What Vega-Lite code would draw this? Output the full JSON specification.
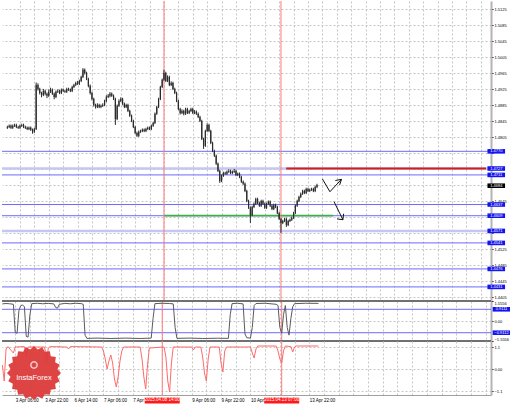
{
"$schema":"https://vega.github.io/schema/vega-lite/v6.json",
"padding":0,
"spacing":0,
"bounds":"flush",
"background":"white",
"config":{"view":{"stroke":null},"axis":{"labelFont":"Liberation Sans","labelColor":"#000","gridColor":"#c6c6c6","gridDash":[2,2],"gridWidth":1,"domainColor":"#a8a8a8"}},
"datasets":{
"candles":[
{"i":-7,"o":1.4829,"h":1.4834,"l":1.4826,"c":1.4831},
{"i":-6,"o":1.4831,"h":1.4837,"l":1.4828,"c":1.4834},
{"i":-5,"o":1.4834,"h":1.4837,"l":1.4826,"c":1.4829},
{"i":-4,"o":1.4829,"h":1.4837,"l":1.4826,"c":1.4834},
{"i":-3,"o":1.4834,"h":1.4839,"l":1.4831,"c":1.4836},
{"i":-2,"o":1.4836,"h":1.4839,"l":1.4828,"c":1.4831},
{"i":-1,"o":1.4831,"h":1.4834,"l":1.4826,"c":1.4829},
{"i":0,"o":1.4829,"h":1.4837,"l":1.4826,"c":1.4834},
{"i":1,"o":1.4834,"h":1.4839,"l":1.4831,"c":1.4836},
{"i":2,"o":1.4836,"h":1.4839,"l":1.4828,"c":1.4831},
{"i":3,"o":1.4831,"h":1.4834,"l":1.4826,"c":1.4829},
{"i":4,"o":1.4829,"h":1.4832,"l":1.4823,"c":1.4826},
{"i":5,"o":1.4826,"h":1.4832,"l":1.4823,"c":1.4829},
{"i":6,"o":1.4829,"h":1.4832,"l":1.4821,"c":1.4824},
{"i":7,"o":1.4824,"h":1.4827,"l":1.4814,"c":1.4819},
{"i":8,"o":1.4819,"h":1.4829,"l":1.4816,"c":1.4826},
{"i":9,"o":1.4826,"h":1.4942,"l":1.4823,"c":1.4936},
{"i":10,"o":1.4936,"h":1.4940,"l":1.4922,"c":1.4926},
{"i":11,"o":1.4926,"h":1.4929,"l":1.4912,"c":1.4916},
{"i":12,"o":1.4916,"h":1.4919,"l":1.4905,"c":1.4911},
{"i":13,"o":1.4911,"h":1.4926,"l":1.4908,"c":1.4921},
{"i":14,"o":1.4921,"h":1.4924,"l":1.4910,"c":1.4914},
{"i":15,"o":1.4914,"h":1.4917,"l":1.4903,"c":1.4909},
{"i":16,"o":1.4909,"h":1.4925,"l":1.4906,"c":1.4919},
{"i":17,"o":1.4919,"h":1.4929,"l":1.4916,"c":1.4924},
{"i":18,"o":1.4924,"h":1.4927,"l":1.4911,"c":1.4914},
{"i":19,"o":1.4914,"h":1.4917,"l":1.4900,"c":1.4906},
{"i":20,"o":1.4906,"h":1.4922,"l":1.4903,"c":1.4919},
{"i":21,"o":1.4919,"h":1.4925,"l":1.4916,"c":1.4921},
{"i":22,"o":1.4921,"h":1.4924,"l":1.4913,"c":1.4916},
{"i":23,"o":1.4916,"h":1.4927,"l":1.4913,"c":1.4924},
{"i":24,"o":1.4924,"h":1.4927,"l":1.4918,"c":1.4921},
{"i":25,"o":1.4921,"h":1.4924,"l":1.4916,"c":1.4919},
{"i":26,"o":1.4919,"h":1.4929,"l":1.4916,"c":1.4926},
{"i":27,"o":1.4926,"h":1.4929,"l":1.4921,"c":1.4924},
{"i":28,"o":1.4924,"h":1.4927,"l":1.4918,"c":1.4921},
{"i":29,"o":1.4921,"h":1.4934,"l":1.4918,"c":1.4931},
{"i":30,"o":1.4931,"h":1.4939,"l":1.4928,"c":1.4936},
{"i":31,"o":1.4936,"h":1.4944,"l":1.4933,"c":1.4941},
{"i":32,"o":1.4941,"h":1.4946,"l":1.4936,"c":1.4939},
{"i":33,"o":1.4939,"h":1.4949,"l":1.4936,"c":1.4946},
{"i":34,"o":1.4946,"h":1.4959,"l":1.4943,"c":1.4956},
{"i":35,"o":1.4956,"h":1.4978,"l":1.4953,"c":1.4974},
{"i":36,"o":1.4974,"h":1.4977,"l":1.4962,"c":1.4966},
{"i":37,"o":1.4966,"h":1.4969,"l":1.4948,"c":1.4951},
{"i":38,"o":1.4951,"h":1.4954,"l":1.4930,"c":1.4934},
{"i":39,"o":1.4934,"h":1.4937,"l":1.4912,"c":1.4916},
{"i":40,"o":1.4916,"h":1.4919,"l":1.4897,"c":1.4901},
{"i":41,"o":1.4901,"h":1.4904,"l":1.4882,"c":1.4886},
{"i":42,"o":1.4886,"h":1.4889,"l":1.4877,"c":1.4881},
{"i":43,"o":1.4881,"h":1.4890,"l":1.4878,"c":1.4886},
{"i":44,"o":1.4886,"h":1.4889,"l":1.4878,"c":1.4881},
{"i":45,"o":1.4881,"h":1.4887,"l":1.4878,"c":1.4884},
{"i":46,"o":1.4884,"h":1.4890,"l":1.4881,"c":1.4886},
{"i":47,"o":1.4886,"h":1.4899,"l":1.4883,"c":1.4896},
{"i":48,"o":1.4896,"h":1.4910,"l":1.4893,"c":1.4906},
{"i":49,"o":1.4906,"h":1.4913,"l":1.4903,"c":1.4909},
{"i":50,"o":1.4909,"h":1.4918,"l":1.4905,"c":1.4914},
{"i":51,"o":1.4914,"h":1.4917,"l":1.4906,"c":1.4909},
{"i":52,"o":1.4909,"h":1.4912,"l":1.4898,"c":1.4901},
{"i":53,"o":1.4901,"h":1.4904,"l":1.4836,"c":1.4851},
{"i":54,"o":1.4851,"h":1.4887,"l":1.4848,"c":1.4884},
{"i":55,"o":1.4884,"h":1.4900,"l":1.4881,"c":1.4896},
{"i":56,"o":1.4896,"h":1.4905,"l":1.4893,"c":1.4901},
{"i":57,"o":1.4901,"h":1.4904,"l":1.4886,"c":1.4889},
{"i":58,"o":1.4889,"h":1.4892,"l":1.4878,"c":1.4881},
{"i":59,"o":1.4881,"h":1.4889,"l":1.4878,"c":1.4886},
{"i":60,"o":1.4886,"h":1.4889,"l":1.4868,"c":1.4871},
{"i":61,"o":1.4871,"h":1.4874,"l":1.4856,"c":1.4859},
{"i":62,"o":1.4859,"h":1.4862,"l":1.4843,"c":1.4846},
{"i":63,"o":1.4846,"h":1.4849,"l":1.4828,"c":1.4831},
{"i":64,"o":1.4831,"h":1.4834,"l":1.4813,"c":1.4816},
{"i":65,"o":1.4816,"h":1.4819,"l":1.4806,"c":1.4809},
{"i":66,"o":1.4809,"h":1.4822,"l":1.4806,"c":1.4819},
{"i":67,"o":1.4819,"h":1.4824,"l":1.4816,"c":1.4821},
{"i":68,"o":1.4821,"h":1.4827,"l":1.4818,"c":1.4824},
{"i":69,"o":1.4824,"h":1.4827,"l":1.4818,"c":1.4821},
{"i":70,"o":1.4821,"h":1.4829,"l":1.4818,"c":1.4826},
{"i":71,"o":1.4826,"h":1.4832,"l":1.4823,"c":1.4829},
{"i":72,"o":1.4829,"h":1.4832,"l":1.4823,"c":1.4826},
{"i":73,"o":1.4826,"h":1.4837,"l":1.4823,"c":1.4834},
{"i":74,"o":1.4834,"h":1.4844,"l":1.4831,"c":1.4841},
{"i":75,"o":1.4841,"h":1.4867,"l":1.4838,"c":1.4864},
{"i":76,"o":1.4864,"h":1.4884,"l":1.4861,"c":1.4881},
{"i":77,"o":1.4881,"h":1.4904,"l":1.4878,"c":1.4901},
{"i":78,"o":1.4901,"h":1.4934,"l":1.4898,"c":1.4931},
{"i":79,"o":1.4931,"h":1.4952,"l":1.4928,"c":1.4949},
{"i":80,"o":1.4949,"h":1.4974,"l":1.4946,"c":1.4966},
{"i":81,"o":1.4966,"h":1.4969,"l":1.4943,"c":1.4946},
{"i":82,"o":1.4946,"h":1.4960,"l":1.4943,"c":1.4956},
{"i":83,"o":1.4956,"h":1.4959,"l":1.4933,"c":1.4936},
{"i":84,"o":1.4936,"h":1.4945,"l":1.4933,"c":1.4941},
{"i":85,"o":1.4941,"h":1.4944,"l":1.4923,"c":1.4926},
{"i":86,"o":1.4926,"h":1.4929,"l":1.4913,"c":1.4916},
{"i":87,"o":1.4916,"h":1.4919,"l":1.4893,"c":1.4896},
{"i":88,"o":1.4896,"h":1.4899,"l":1.4873,"c":1.4876},
{"i":89,"o":1.4876,"h":1.4879,"l":1.4862,"c":1.4866},
{"i":90,"o":1.4866,"h":1.4875,"l":1.4863,"c":1.4871},
{"i":91,"o":1.4871,"h":1.4874,"l":1.4860,"c":1.4864},
{"i":92,"o":1.4864,"h":1.4879,"l":1.4861,"c":1.4876},
{"i":93,"o":1.4876,"h":1.4879,"l":1.4863,"c":1.4866},
{"i":94,"o":1.4866,"h":1.4874,"l":1.4863,"c":1.4871},
{"i":95,"o":1.4871,"h":1.4879,"l":1.4868,"c":1.4876},
{"i":96,"o":1.4876,"h":1.4879,"l":1.4863,"c":1.4866},
{"i":97,"o":1.4866,"h":1.4873,"l":1.4863,"c":1.4869},
{"i":98,"o":1.4869,"h":1.4872,"l":1.4861,"c":1.4864},
{"i":99,"o":1.4864,"h":1.4867,"l":1.4853,"c":1.4856},
{"i":100,"o":1.4856,"h":1.4859,"l":1.4843,"c":1.4846},
{"i":101,"o":1.4846,"h":1.4849,"l":1.4798,"c":1.4801},
{"i":102,"o":1.4801,"h":1.4804,"l":1.4776,"c":1.4784},
{"i":103,"o":1.4784,"h":1.4824,"l":1.4781,"c":1.4821},
{"i":104,"o":1.4821,"h":1.4840,"l":1.4818,"c":1.4836},
{"i":105,"o":1.4836,"h":1.4839,"l":1.4818,"c":1.4821},
{"i":106,"o":1.4821,"h":1.4824,"l":1.4788,"c":1.4791},
{"i":107,"o":1.4791,"h":1.4794,"l":1.4768,"c":1.4771},
{"i":108,"o":1.4771,"h":1.4774,"l":1.4756,"c":1.4759},
{"i":109,"o":1.4759,"h":1.4762,"l":1.4736,"c":1.4739},
{"i":110,"o":1.4739,"h":1.4742,"l":1.4718,"c":1.4721},
{"i":111,"o":1.4721,"h":1.4724,"l":1.4691,"c":1.4696},
{"i":112,"o":1.4696,"h":1.4712,"l":1.4693,"c":1.4709},
{"i":113,"o":1.4709,"h":1.4719,"l":1.4706,"c":1.4716},
{"i":114,"o":1.4716,"h":1.4719,"l":1.4711,"c":1.4714},
{"i":115,"o":1.4714,"h":1.4722,"l":1.4711,"c":1.4719},
{"i":116,"o":1.4719,"h":1.4725,"l":1.4716,"c":1.4721},
{"i":117,"o":1.4721,"h":1.4724,"l":1.4713,"c":1.4716},
{"i":118,"o":1.4716,"h":1.4722,"l":1.4713,"c":1.4719},
{"i":119,"o":1.4719,"h":1.4726,"l":1.4716,"c":1.4721},
{"i":120,"o":1.4721,"h":1.4724,"l":1.4708,"c":1.4711},
{"i":121,"o":1.4711,"h":1.4717,"l":1.4708,"c":1.4714},
{"i":122,"o":1.4714,"h":1.4717,"l":1.4703,"c":1.4706},
{"i":123,"o":1.4706,"h":1.4709,"l":1.4691,"c":1.4694},
{"i":124,"o":1.4694,"h":1.4697,"l":1.4686,"c":1.4689},
{"i":125,"o":1.4689,"h":1.4692,"l":1.4668,"c":1.4671},
{"i":126,"o":1.4671,"h":1.4674,"l":1.4643,"c":1.4646},
{"i":127,"o":1.4646,"h":1.4649,"l":1.4626,"c":1.4629},
{"i":128,"o":1.4629,"h":1.4632,"l":1.4591,"c":1.4611},
{"i":129,"o":1.4611,"h":1.4634,"l":1.4608,"c":1.4631},
{"i":130,"o":1.4631,"h":1.4642,"l":1.4628,"c":1.4639},
{"i":131,"o":1.4639,"h":1.4654,"l":1.4636,"c":1.4651},
{"i":132,"o":1.4651,"h":1.4654,"l":1.4638,"c":1.4641},
{"i":133,"o":1.4641,"h":1.4644,"l":1.4631,"c":1.4634},
{"i":134,"o":1.4634,"h":1.4649,"l":1.4631,"c":1.4646},
{"i":135,"o":1.4646,"h":1.4649,"l":1.4636,"c":1.4639},
{"i":136,"o":1.4639,"h":1.4642,"l":1.4626,"c":1.4629},
{"i":137,"o":1.4629,"h":1.4642,"l":1.4626,"c":1.4639},
{"i":138,"o":1.4639,"h":1.4647,"l":1.4636,"c":1.4644},
{"i":139,"o":1.4644,"h":1.4647,"l":1.4631,"c":1.4634},
{"i":140,"o":1.4634,"h":1.4637,"l":1.4623,"c":1.4626},
{"i":141,"o":1.4626,"h":1.4639,"l":1.4623,"c":1.4636},
{"i":142,"o":1.4636,"h":1.4639,"l":1.4628,"c":1.4631},
{"i":143,"o":1.4631,"h":1.4634,"l":1.4613,"c":1.4616},
{"i":144,"o":1.4616,"h":1.4619,"l":1.4598,"c":1.4601},
{"i":145,"o":1.4601,"h":1.4604,"l":1.4566,"c":1.4591},
{"i":146,"o":1.4591,"h":1.4599,"l":1.4588,"c":1.4596},
{"i":147,"o":1.4596,"h":1.4604,"l":1.4593,"c":1.4601},
{"i":148,"o":1.4601,"h":1.4604,"l":1.4581,"c":1.4586},
{"i":149,"o":1.4586,"h":1.4599,"l":1.4583,"c":1.4596},
{"i":150,"o":1.4596,"h":1.4602,"l":1.4593,"c":1.4599},
{"i":151,"o":1.4599,"h":1.4607,"l":1.4596,"c":1.4604},
{"i":152,"o":1.4604,"h":1.4619,"l":1.4601,"c":1.4616},
{"i":153,"o":1.4616,"h":1.4637,"l":1.4613,"c":1.4634},
{"i":154,"o":1.4634,"h":1.4649,"l":1.4631,"c":1.4646},
{"i":155,"o":1.4646,"h":1.4659,"l":1.4643,"c":1.4656},
{"i":156,"o":1.4656,"h":1.4667,"l":1.4653,"c":1.4664},
{"i":157,"o":1.4664,"h":1.4674,"l":1.4661,"c":1.4671},
{"i":158,"o":1.4671,"h":1.4674,"l":1.4663,"c":1.4666},
{"i":159,"o":1.4666,"h":1.4679,"l":1.4663,"c":1.4676},
{"i":160,"o":1.4676,"h":1.4679,"l":1.4668,"c":1.4671},
{"i":161,"o":1.4671,"h":1.4677,"l":1.4668,"c":1.4674},
{"i":162,"o":1.4674,"h":1.4679,"l":1.4671,"c":1.4676},
{"i":163,"o":1.4676,"h":1.4679,"l":1.4668,"c":1.4671},
{"i":164,"o":1.4671,"h":1.4684,"l":1.4668,"c":1.4681},
{"i":165,"o":1.4681,"h":1.4689,"l":1.4678,"c":1.4686}
],
"levels":[
{"p":1.4770,"kind":"line"},{"p":1.4727,"kind":"zone"},{"p":1.4711,"kind":"line"},{"p":1.4637,"kind":"line"},{"p":1.4609,"kind":"line"},{"p":1.4571,"kind":"zone"},{"p":1.4541,"kind":"line"},{"p":1.4476,"kind":"line"},{"p":1.4431,"kind":"line"}
],
"bid":[{"p":1.4684}],
"segments":[
{"kind":"resistance","p":1.4727,"i":147.9,"i1":258.9},
{"kind":"support","p":1.4609,"i":80,"i1":174}
],
"cursors":[{"i":80,"label":"2015.04.08 14:00"},{"i":145,"label":"2015.04.13 07:00"}],
"arrows":[
{"id":"up","k":1,"i":168.0,"p":1.4701},{"id":"up","k":2,"i":172.2,"p":1.4669},{"id":"up","k":3,"i":178.6,"p":1.4700},
{"id":"uphead","k":1,"i":175.2,"p":1.4697},{"id":"uphead","k":2,"i":178.6,"p":1.4700},{"id":"uphead","k":3,"i":177.6,"p":1.4686},
{"id":"down","k":1,"i":174.5,"p":1.4644},{"id":"down","k":2,"i":179.4,"p":1.4599},
{"id":"downhead","k":1,"i":176.2,"p":1.4601},{"id":"downhead","k":2,"i":179.4,"p":1.4599},{"id":"downhead","k":3,"i":179.8,"p":1.4614}
],
"osc1":[
{"i":-7,"v":1.33},{"i":-5,"v":1.36},{"i":-3,"v":1.34},{"i":-1,"v":1.30},{"i":0,"v":-0.9},{"i":1,"v":-0.95},{"i":2,"v":0.8},{"i":3,"v":1.2},{"i":4,"v":1.25},{"i":5,"v":1.1},{"i":6,"v":-1.2},{"i":7,"v":-1.25},{"i":8,"v":0.5},{"i":9,"v":1.35},{"i":12,"v":1.38},{"i":15,"v":1.34},{"i":18,"v":1.37},{"i":21,"v":1.33},{"i":22,"v":1.05},{"i":23,"v":1.0},{"i":24,"v":1.3},{"i":27,"v":1.37},{"i":30,"v":1.34},{"i":33,"v":1.38},{"i":36,"v":1.35},{"i":37,"v":1.3},{"i":38,"v":-1.1},{"i":39,"v":-1.35},{"i":45,"v":-1.33},{"i":52,"v":-1.36},{"i":60,"v":-1.33},{"i":68,"v":-1.36},{"i":74,"v":-1.33},{"i":75,"v":0.2},{"i":76,"v":1.35},{"i":80,"v":1.38},{"i":84,"v":1.36},{"i":86,"v":1.33},{"i":87,"v":-0.5},{"i":88,"v":-1.35},{"i":95,"v":-1.33},{"i":102,"v":-1.36},{"i":110,"v":-1.34},{"i":116,"v":-1.35},{"i":117,"v":0.5},{"i":118,"v":1.35},{"i":121,"v":1.38},{"i":124,"v":1.33},{"i":125,"v":-1.0},{"i":126,"v":-1.3},{"i":128,"v":-1.33},{"i":129,"v":-0.5},{"i":130,"v":1.2},{"i":131,"v":1.36},{"i":136,"v":1.38},{"i":142,"v":1.3},{"i":143,"v":1.2},{"i":144,"v":-0.5},{"i":145,"v":-0.95},{"i":146,"v":0.5},{"i":147,"v":1.2},{"i":148,"v":-0.5},{"i":149,"v":-1.1},{"i":150,"v":0.2},{"i":151,"v":1.1},{"i":152,"v":1.35},{"i":158,"v":1.38},{"i":165,"v":1.37}
],
"osc1levels":[{"v":0.9111},{"v":-0.9112}],
"osc1bounds":[{"v":1.5556},{"v":-1.5556}],
"osc2":[
{"i":-7,"v":0.2},{"i":-6,"v":-0.6},{"i":-5,"v":1.0},{"i":-4,"v":1.12},{"i":-1,"v":0.8},{"i":0,"v":1.1},{"i":5,"v":1.12},{"i":6,"v":0.7},{"i":7,"v":1.1},{"i":16,"v":1.1},{"i":17,"v":0.3},{"i":18,"v":1.05},{"i":19,"v":1.12},{"i":28,"v":1.1},{"i":29,"v":1.0},{"i":30,"v":1.12},{"i":47,"v":1.1},{"i":48,"v":0.9},{"i":49,"v":0.5},{"i":50,"v":0.0},{"i":51,"v":0.4},{"i":52,"v":0.7},{"i":53,"v":0.3},{"i":54,"v":-0.5},{"i":55,"v":-0.9},{"i":56,"v":-0.4},{"i":57,"v":0.4},{"i":58,"v":0.9},{"i":59,"v":1.1},{"i":68,"v":1.1},{"i":69,"v":0.5},{"i":70,"v":-0.4},{"i":71,"v":-1.0},{"i":72,"v":0.2},{"i":73,"v":1.05},{"i":81,"v":1.1},{"i":82,"v":0.6},{"i":83,"v":-0.6},{"i":84,"v":-1.15},{"i":85,"v":0.3},{"i":86,"v":1.1},{"i":96,"v":1.1},{"i":97,"v":0.95},{"i":98,"v":1.1},{"i":101,"v":1.1},{"i":102,"v":0.6},{"i":103,"v":-0.2},{"i":104,"v":-0.6},{"i":105,"v":0.5},{"i":106,"v":1.1},{"i":111,"v":1.1},{"i":112,"v":0.3},{"i":113,"v":-0.15},{"i":114,"v":0.9},{"i":115,"v":1.1},{"i":128,"v":1.1},{"i":129,"v":0.8},{"i":130,"v":0.55},{"i":131,"v":1.0},{"i":132,"v":1.15},{"i":142,"v":1.15},{"i":143,"v":0.9},{"i":144,"v":0.5},{"i":145,"v":0.3},{"i":146,"v":0.9},{"i":147,"v":1.15},{"i":150,"v":1.12},{"i":151,"v":0.85},{"i":152,"v":1.1},{"i":153,"v":1.15},{"i":165,"v":1.15}
],
"logo":[{"i":10.2,"v":-0.2,"name":"InstaForex"}]
},
"vconcat":[
{
"width":489,"height":300,
"layer":[
{"data":{"name":"levels"},"mark":{"type":"rule"},
 "encoding":{
  "y":{"field":"p","type":"quantitative","scale":{"domain":[1.43958,1.51458],"nice":false,"zero":false},"axis":{"orient":"right","values":[1.4405,1.4445,1.4485,1.4525,1.4565,1.4605,1.4645,1.4685,1.4725,1.4765,1.4805,1.4845,1.4885,1.4925,1.4965,1.5005,1.5045,1.5085,1.5125],"labelExpr":"indexof(['1.4765','1.4725','1.4685','1.4605','1.4565'], format(datum.value, '.4f')) >= 0 ? '' : format(datum.value, '.4f')","grid":true,"title":null,"labelFontSize":4,"tickSize":2,"tickColor":"#000","domainColor":"#b4b4b4","domainWidth":2,"labelPadding":1,"labelOverlap":false}},
  "color":{"field":"kind","type":"nominal","scale":{"domain":["line","zone"],"range":["#6b6bff","#c6c6f4"]},"legend":null},
  "strokeWidth":{"field":"kind","type":"ordinal","scale":{"domain":["line","zone"],"range":[1,2.5]},"legend":null}}},
{"data":{"name":"segments"},"mark":{"type":"rule","strokeWidth":1.8},
 "encoding":{
  "x":{"field":"i","type":"quantitative","scale":{"domain":[-7.2,258.9],"nice":false,"zero":false},"axis":{"values":[0,8,16,24,32,40,48,56,64,72,80,88,96,104,112,120,128,136,144,152,160,168,176,184,192,200,208,216,224,232,240,248,256],"labels":false,"ticks":false,"domain":false,"grid":true,"title":null}},
  "x2":{"field":"i1"},
  "y":{"field":"p","type":"quantitative","scale":{"domain":[1.43958,1.51458],"nice":false,"zero":false},"axis":{"orient":"right","values":[1.4405,1.4445,1.4485,1.4525,1.4565,1.4605,1.4645,1.4685,1.4725,1.4765,1.4805,1.4845,1.4885,1.4925,1.4965,1.5005,1.5045,1.5085,1.5125],"labelExpr":"indexof(['1.4765','1.4725','1.4685','1.4605','1.4565'], format(datum.value, '.4f')) >= 0 ? '' : format(datum.value, '.4f')","grid":true,"title":null,"labelFontSize":4,"tickSize":2,"tickColor":"#000","domainColor":"#b4b4b4","domainWidth":2,"labelPadding":1,"labelOverlap":false}},
  "stroke":{"field":"kind","type":"nominal","scale":{"domain":["resistance","support"],"range":["#d41c1c","#3cb04a"]},"legend":null}}},
{"data":{"name":"cursors"},"mark":{"type":"rule","color":"#ff7a7a","strokeWidth":1},
 "encoding":{"x":{"field":"i","type":"quantitative","scale":{"domain":[-7.2,258.9],"nice":false,"zero":false},"axis":{"values":[0,8,16,24,32,40,48,56,64,72,80,88,96,104,112,120,128,136,144,152,160,168,176,184,192,200,208,216,224,232,240,248,256],"labels":false,"ticks":false,"domain":false,"grid":true,"title":null}}}},
{"data":{"name":"candles"},"mark":{"type":"rule","color":"#2a2a2a","strokeWidth":1},
 "encoding":{
  "x":{"field":"i","type":"quantitative","scale":{"domain":[-7.2,258.9],"nice":false,"zero":false},"axis":{"values":[0,8,16,24,32,40,48,56,64,72,80,88,96,104,112,120,128,136,144,152,160,168,176,184,192,200,208,216,224,232,240,248,256],"labels":false,"ticks":false,"domain":false,"grid":true,"title":null}},
  "y":{"field":"l","type":"quantitative","scale":{"domain":[1.43958,1.51458],"nice":false,"zero":false},"axis":{"orient":"right","values":[1.4405,1.4445,1.4485,1.4525,1.4565,1.4605,1.4645,1.4685,1.4725,1.4765,1.4805,1.4845,1.4885,1.4925,1.4965,1.5005,1.5045,1.5085,1.5125],"labelExpr":"indexof(['1.4765','1.4725','1.4685','1.4605','1.4565'], format(datum.value, '.4f')) >= 0 ? '' : format(datum.value, '.4f')","grid":true,"title":null,"labelFontSize":4,"tickSize":2,"tickColor":"#000","domainColor":"#b4b4b4","domainWidth":2,"labelPadding":1,"labelOverlap":false}},
  "y2":{"field":"h"}}},
{"data":{"name":"candles"},"mark":{"type":"bar","color":"#2a2a2a","width":1.2},
 "encoding":{
  "x":{"field":"i","type":"quantitative","scale":{"domain":[-7.2,258.9],"nice":false,"zero":false},"axis":{"values":[0,8,16,24,32,40,48,56,64,72,80,88,96,104,112,120,128,136,144,152,160,168,176,184,192,200,208,216,224,232,240,248,256],"labels":false,"ticks":false,"domain":false,"grid":true,"title":null}},
  "y":{"field":"o","type":"quantitative","scale":{"domain":[1.43958,1.51458],"nice":false,"zero":false},"axis":{"orient":"right","values":[1.4405,1.4445,1.4485,1.4525,1.4565,1.4605,1.4645,1.4685,1.4725,1.4765,1.4805,1.4845,1.4885,1.4925,1.4965,1.5005,1.5045,1.5085,1.5125],"labelExpr":"indexof(['1.4765','1.4725','1.4685','1.4605','1.4565'], format(datum.value, '.4f')) >= 0 ? '' : format(datum.value, '.4f')","grid":true,"title":null,"labelFontSize":4,"tickSize":2,"tickColor":"#000","domainColor":"#b4b4b4","domainWidth":2,"labelPadding":1,"labelOverlap":false}},
  "y2":{"field":"c"}}},
{"data":{"name":"arrows"},"mark":{"type":"line","color":"#111","strokeWidth":1},
 "encoding":{
  "x":{"field":"i","type":"quantitative","scale":{"domain":[-7.2,258.9],"nice":false,"zero":false},"axis":{"values":[0,8,16,24,32,40,48,56,64,72,80,88,96,104,112,120,128,136,144,152,160,168,176,184,192,200,208,216,224,232,240,248,256],"labels":false,"ticks":false,"domain":false,"grid":true,"title":null}},
  "y":{"field":"p","type":"quantitative","scale":{"domain":[1.43958,1.51458],"nice":false,"zero":false},"axis":{"orient":"right","values":[1.4405,1.4445,1.4485,1.4525,1.4565,1.4605,1.4645,1.4685,1.4725,1.4765,1.4805,1.4845,1.4885,1.4925,1.4965,1.5005,1.5045,1.5085,1.5125],"labelExpr":"indexof(['1.4765','1.4725','1.4685','1.4605','1.4565'], format(datum.value, '.4f')) >= 0 ? '' : format(datum.value, '.4f')","grid":true,"title":null,"labelFontSize":4,"tickSize":2,"tickColor":"#000","domainColor":"#b4b4b4","domainWidth":2,"labelPadding":1,"labelOverlap":false}},
  "detail":{"field":"id"},"order":{"field":"k"}}},
{"data":{"name":"levels"},"mark":{"type":"point","shape":"M-1,-0.26L1,-0.26L1,0.26L-1,0.26Z","filled":true,"size":310,"color":"#1414f0","opacity":1},
 "encoding":{
  "x":{"datum":264.6,"type":"quantitative","scale":{"domain":[-7.2,258.9],"nice":false,"zero":false},"axis":{"values":[0,8,16,24,32,40,48,56,64,72,80,88,96,104,112,120,128,136,144,152,160,168,176,184,192,200,208,216,224,232,240,248,256],"labels":false,"ticks":false,"domain":false,"grid":true,"title":null}},
  "y":{"field":"p","type":"quantitative","scale":{"domain":[1.43958,1.51458],"nice":false,"zero":false},"axis":{"orient":"right","values":[1.4405,1.4445,1.4485,1.4525,1.4565,1.4605,1.4645,1.4685,1.4725,1.4765,1.4805,1.4845,1.4885,1.4925,1.4965,1.5005,1.5045,1.5085,1.5125],"labelExpr":"indexof(['1.4765','1.4725','1.4685','1.4605','1.4565'], format(datum.value, '.4f')) >= 0 ? '' : format(datum.value, '.4f')","grid":true,"title":null,"labelFontSize":4,"tickSize":2,"tickColor":"#000","domainColor":"#b4b4b4","domainWidth":2,"labelPadding":1,"labelOverlap":false}}}},
{"data":{"name":"bid"},"mark":{"type":"point","shape":"M-1,-0.26L1,-0.26L1,0.26L-1,0.26Z","filled":true,"size":310,"color":"#000","opacity":1},
 "encoding":{
  "x":{"datum":264.6,"type":"quantitative","scale":{"domain":[-7.2,258.9],"nice":false,"zero":false},"axis":{"values":[0,8,16,24,32,40,48,56,64,72,80,88,96,104,112,120,128,136,144,152,160,168,176,184,192,200,208,216,224,232,240,248,256],"labels":false,"ticks":false,"domain":false,"grid":true,"title":null}},
  "y":{"field":"p","type":"quantitative","scale":{"domain":[1.43958,1.51458],"nice":false,"zero":false},"axis":{"orient":"right","values":[1.4405,1.4445,1.4485,1.4525,1.4565,1.4605,1.4645,1.4685,1.4725,1.4765,1.4805,1.4845,1.4885,1.4925,1.4965,1.5005,1.5045,1.5085,1.5125],"labelExpr":"indexof(['1.4765','1.4725','1.4685','1.4605','1.4565'], format(datum.value, '.4f')) >= 0 ? '' : format(datum.value, '.4f')","grid":true,"title":null,"labelFontSize":4,"tickSize":2,"tickColor":"#000","domainColor":"#b4b4b4","domainWidth":2,"labelPadding":1,"labelOverlap":false}}}},
{"data":{"name":"levels"},"mark":{"type":"text","color":"white","fontSize":4,"font":"Liberation Sans","align":"center","baseline":"middle"},
 "encoding":{
  "x":{"datum":264.6,"type":"quantitative","scale":{"domain":[-7.2,258.9],"nice":false,"zero":false},"axis":{"values":[0,8,16,24,32,40,48,56,64,72,80,88,96,104,112,120,128,136,144,152,160,168,176,184,192,200,208,216,224,232,240,248,256],"labels":false,"ticks":false,"domain":false,"grid":true,"title":null}},
  "y":{"field":"p","type":"quantitative","scale":{"domain":[1.43958,1.51458],"nice":false,"zero":false},"axis":{"orient":"right","values":[1.4405,1.4445,1.4485,1.4525,1.4565,1.4605,1.4645,1.4685,1.4725,1.4765,1.4805,1.4845,1.4885,1.4925,1.4965,1.5005,1.5045,1.5085,1.5125],"labelExpr":"indexof(['1.4765','1.4725','1.4685','1.4605','1.4565'], format(datum.value, '.4f')) >= 0 ? '' : format(datum.value, '.4f')","grid":true,"title":null,"labelFontSize":4,"tickSize":2,"tickColor":"#000","domainColor":"#b4b4b4","domainWidth":2,"labelPadding":1,"labelOverlap":false}},
  "text":{"field":"p","type":"quantitative","format":".4f"}}},
{"data":{"name":"bid"},"mark":{"type":"text","color":"white","fontSize":4,"font":"Liberation Sans","align":"center","baseline":"middle"},
 "encoding":{
  "x":{"datum":264.6,"type":"quantitative","scale":{"domain":[-7.2,258.9],"nice":false,"zero":false},"axis":{"values":[0,8,16,24,32,40,48,56,64,72,80,88,96,104,112,120,128,136,144,152,160,168,176,184,192,200,208,216,224,232,240,248,256],"labels":false,"ticks":false,"domain":false,"grid":true,"title":null}},
  "y":{"field":"p","type":"quantitative","scale":{"domain":[1.43958,1.51458],"nice":false,"zero":false},"axis":{"orient":"right","values":[1.4405,1.4445,1.4485,1.4525,1.4565,1.4605,1.4645,1.4685,1.4725,1.4765,1.4805,1.4845,1.4885,1.4925,1.4965,1.5005,1.5045,1.5085,1.5125],"labelExpr":"indexof(['1.4765','1.4725','1.4685','1.4605','1.4565'], format(datum.value, '.4f')) >= 0 ? '' : format(datum.value, '.4f')","grid":true,"title":null,"labelFontSize":4,"tickSize":2,"tickColor":"#000","domainColor":"#b4b4b4","domainWidth":2,"labelPadding":1,"labelOverlap":false}},
  "text":{"field":"p","type":"quantitative","format":".4f"}}}
]
},
{
"width":489,"height":40,
"layer":[
{"data":{"name":"osc1levels"},"mark":{"type":"rule","color":"#6b6bff","strokeWidth":1},
 "encoding":{"y":{"field":"v","type":"quantitative","scale":{"domain":[-1.5556,1.5556],"nice":false,"zero":false},"axis":{"orient":"right","values":[1.5556,0,-1.5556],"labelExpr":"datum.value == 0 ? '0.00' : format(datum.value, '.4f')","labelFlush":true,"grid":true,"title":null,"labelFontSize":4,"tickSize":2,"tickColor":"#000","domainColor":"#b4b4b4","domainWidth":2,"labelPadding":1,"labelOverlap":false}}}},
{"data":{"name":"cursors"},"mark":{"type":"rule","color":"#ff7a7a","strokeWidth":1},
 "encoding":{"x":{"field":"i","type":"quantitative","scale":{"domain":[-7.2,258.9],"nice":false,"zero":false},"axis":{"values":[0,8,16,24,32,40,48,56,64,72,80,88,96,104,112,120,128,136,144,152,160,168,176,184,192,200,208,216,224,232,240,248,256],"labels":false,"ticks":false,"domain":false,"grid":true,"title":null}}}},
{"data":{"name":"osc1"},"mark":{"type":"line","color":"#5a5a5a","strokeWidth":1},
 "encoding":{
  "x":{"field":"i","type":"quantitative","scale":{"domain":[-7.2,258.9],"nice":false,"zero":false},"axis":{"values":[0,8,16,24,32,40,48,56,64,72,80,88,96,104,112,120,128,136,144,152,160,168,176,184,192,200,208,216,224,232,240,248,256],"labels":false,"ticks":false,"domain":false,"grid":true,"title":null}},
  "y":{"field":"v","type":"quantitative","scale":{"domain":[-1.5556,1.5556],"nice":false,"zero":false},"axis":{"orient":"right","values":[1.5556,0,-1.5556],"labelExpr":"datum.value == 0 ? '0.00' : format(datum.value, '.4f')","labelFlush":true,"grid":true,"title":null,"labelFontSize":4,"tickSize":2,"tickColor":"#000","domainColor":"#b4b4b4","domainWidth":2,"labelPadding":1,"labelOverlap":false}}}},
{"data":{"name":"osc1bounds"},"mark":{"type":"rule","color":"#707070","strokeWidth":2},
 "encoding":{"y":{"field":"v","type":"quantitative","scale":{"domain":[-1.5556,1.5556],"nice":false,"zero":false},"axis":{"orient":"right","values":[1.5556,0,-1.5556],"labelExpr":"datum.value == 0 ? '0.00' : format(datum.value, '.4f')","labelFlush":true,"grid":true,"title":null,"labelFontSize":4,"tickSize":2,"tickColor":"#000","domainColor":"#b4b4b4","domainWidth":2,"labelPadding":1,"labelOverlap":false}}}},
{"data":{"name":"osc1levels"},"mark":{"type":"point","shape":"M-1,-0.26L1,-0.26L1,0.26L-1,0.26Z","filled":true,"size":310,"color":"#1414f0","opacity":1},
 "encoding":{
  "x":{"datum":264.6,"type":"quantitative","scale":{"domain":[-7.2,258.9],"nice":false,"zero":false},"axis":{"values":[0,8,16,24,32,40,48,56,64,72,80,88,96,104,112,120,128,136,144,152,160,168,176,184,192,200,208,216,224,232,240,248,256],"labels":false,"ticks":false,"domain":false,"grid":true,"title":null}},
  "y":{"field":"v","type":"quantitative","scale":{"domain":[-1.5556,1.5556],"nice":false,"zero":false},"axis":{"orient":"right","values":[1.5556,0,-1.5556],"labelExpr":"datum.value == 0 ? '0.00' : format(datum.value, '.4f')","labelFlush":true,"grid":true,"title":null,"labelFontSize":4,"tickSize":2,"tickColor":"#000","domainColor":"#b4b4b4","domainWidth":2,"labelPadding":1,"labelOverlap":false}}}},
{"data":{"name":"osc1levels"},"mark":{"type":"text","color":"white","fontSize":4,"font":"Liberation Sans","align":"center","baseline":"middle"},
 "encoding":{
  "x":{"datum":264.6,"type":"quantitative","scale":{"domain":[-7.2,258.9],"nice":false,"zero":false},"axis":{"values":[0,8,16,24,32,40,48,56,64,72,80,88,96,104,112,120,128,136,144,152,160,168,176,184,192,200,208,216,224,232,240,248,256],"labels":false,"ticks":false,"domain":false,"grid":true,"title":null}},
  "y":{"field":"v","type":"quantitative","scale":{"domain":[-1.5556,1.5556],"nice":false,"zero":false},"axis":{"orient":"right","values":[1.5556,0,-1.5556],"labelExpr":"datum.value == 0 ? '0.00' : format(datum.value, '.4f')","labelFlush":true,"grid":true,"title":null,"labelFontSize":4,"tickSize":2,"tickColor":"#000","domainColor":"#b4b4b4","domainWidth":2,"labelPadding":1,"labelOverlap":false}},
  "text":{"field":"v","type":"quantitative","format":".4f"}}}
]
},
{
"width":489,"height":54,
"layer":[
{"data":{"name":"cursors"},"mark":{"type":"rule","color":"#ff7a7a","strokeWidth":1},
 "encoding":{"x":{"field":"i","type":"quantitative","scale":{"domain":[-7.2,258.9],"nice":false,"zero":false},"axis":{"orient":"bottom","values":[0,8,16,24,32,40,48,56,64,72,80,88,96,104,112,120,128,136,144,152,160,168,176,184,192,200,208,216,224,232,240,248,256],"labelExpr":"datum.value % 16 == 0 && datum.value <= 160 ? ['3 Apr 06:00','3 Apr 22:00','6 Apr 14:00','7 Apr 06:00','7 Apr 22:00','','9 Apr 06:00','9 Apr 22:00','10 Apr 14:00','','13 Apr 22:00'][datum.value/16] : ''","labelAlign":"left","labelFontSize":4.5,"labelPadding":2,"labelOverlap":false,"ticks":false,"domain":true,"domainColor":"#a0a0a0","domainWidth":1,"grid":true,"title":null}}}},
{"data":{"name":"osc2"},"mark":{"type":"line","color":"#ff6a6a","strokeWidth":1},
 "encoding":{
  "x":{"field":"i","type":"quantitative","scale":{"domain":[-7.2,258.9],"nice":false,"zero":false},"axis":{"orient":"bottom","values":[0,8,16,24,32,40,48,56,64,72,80,88,96,104,112,120,128,136,144,152,160,168,176,184,192,200,208,216,224,232,240,248,256],"labelExpr":"datum.value % 16 == 0 && datum.value <= 160 ? ['3 Apr 06:00','3 Apr 22:00','6 Apr 14:00','7 Apr 06:00','7 Apr 22:00','','9 Apr 06:00','9 Apr 22:00','10 Apr 14:00','','13 Apr 22:00'][datum.value/16] : ''","labelAlign":"left","labelFontSize":4.5,"labelPadding":2,"labelOverlap":false,"ticks":false,"domain":true,"domainColor":"#a0a0a0","domainWidth":1,"grid":true,"title":null}},
  "y":{"field":"v","type":"quantitative","scale":{"domain":[-1.3,1.4],"nice":false,"zero":false},"axis":{"orient":"right","values":[1.1,0,-1.1],"labelExpr":"datum.value == 0 ? '0.00' : format(datum.value, '.1f')","grid":true,"title":null,"labelFontSize":4,"tickSize":2,"tickColor":"#000","domainColor":"#b4b4b4","domainWidth":2,"labelPadding":1,"labelOverlap":false}}}},
{"data":{"name":"logo"},"mark":{"type":"point","shape":"M1,0L.869,.138L.951,.309L.784,.4L.809,.588L.622,.622L.588,.809L.4,.784L.309,.951L.138,.869L0,1L-.138,.869L-.309,.951L-.4,.784L-.588,.809L-.622,.622L-.809,.588L-.784,.4L-.951,.309L-.869,.138L-1,0L-.869,-.138L-.951,-.309L-.784,-.4L-.809,-.588L-.622,-.622L-.588,-.809L-.4,-.784L-.309,-.951L-.138,-.869L0,-1L.138,-.869L.309,-.951L.4,-.784L.588,-.809L.622,-.622L.809,-.588L.784,-.4L.951,-.309L.869,-.138Z","filled":true,"size":2916,"color":"#dc3a3a","opacity":0.95},
 "encoding":{
  "x":{"field":"i","type":"quantitative","scale":{"domain":[-7.2,258.9],"nice":false,"zero":false},"axis":{"orient":"bottom","values":[0,8,16,24,32,40,48,56,64,72,80,88,96,104,112,120,128,136,144,152,160,168,176,184,192,200,208,216,224,232,240,248,256],"labelExpr":"datum.value % 16 == 0 && datum.value <= 160 ? ['3 Apr 06:00','3 Apr 22:00','6 Apr 14:00','7 Apr 06:00','7 Apr 22:00','','9 Apr 06:00','9 Apr 22:00','10 Apr 14:00','','13 Apr 22:00'][datum.value/16] : ''","labelAlign":"left","labelFontSize":4.5,"labelPadding":2,"labelOverlap":false,"ticks":false,"domain":true,"domainColor":"#a0a0a0","domainWidth":1,"grid":true,"title":null}},
  "y":{"field":"v","type":"quantitative","scale":{"domain":[-1.3,1.4],"nice":false,"zero":false},"axis":{"orient":"right","values":[1.1,0,-1.1],"labelExpr":"datum.value == 0 ? '0.00' : format(datum.value, '.1f')","grid":true,"title":null,"labelFontSize":4,"tickSize":2,"tickColor":"#000","domainColor":"#b4b4b4","domainWidth":2,"labelPadding":1,"labelOverlap":false}}}},
{"data":{"name":"logo"},"mark":{"type":"point","shape":"circle","filled":false,"size":40,"color":"white","strokeWidth":1.5,"yOffset":-8},
 "encoding":{
  "x":{"field":"i","type":"quantitative","scale":{"domain":[-7.2,258.9],"nice":false,"zero":false},"axis":{"orient":"bottom","values":[0,8,16,24,32,40,48,56,64,72,80,88,96,104,112,120,128,136,144,152,160,168,176,184,192,200,208,216,224,232,240,248,256],"labelExpr":"datum.value % 16 == 0 && datum.value <= 160 ? ['3 Apr 06:00','3 Apr 22:00','6 Apr 14:00','7 Apr 06:00','7 Apr 22:00','','9 Apr 06:00','9 Apr 22:00','10 Apr 14:00','','13 Apr 22:00'][datum.value/16] : ''","labelAlign":"left","labelFontSize":4.5,"labelPadding":2,"labelOverlap":false,"ticks":false,"domain":true,"domainColor":"#a0a0a0","domainWidth":1,"grid":true,"title":null}},
  "y":{"field":"v","type":"quantitative","scale":{"domain":[-1.3,1.4],"nice":false,"zero":false},"axis":{"orient":"right","values":[1.1,0,-1.1],"labelExpr":"datum.value == 0 ? '0.00' : format(datum.value, '.1f')","grid":true,"title":null,"labelFontSize":4,"tickSize":2,"tickColor":"#000","domainColor":"#b4b4b4","domainWidth":2,"labelPadding":1,"labelOverlap":false}}}},
{"data":{"name":"logo"},"mark":{"type":"text","color":"white","fontSize":7.5,"font":"Liberation Sans","align":"center","baseline":"middle","yOffset":5},
 "encoding":{
  "x":{"field":"i","type":"quantitative","scale":{"domain":[-7.2,258.9],"nice":false,"zero":false},"axis":{"orient":"bottom","values":[0,8,16,24,32,40,48,56,64,72,80,88,96,104,112,120,128,136,144,152,160,168,176,184,192,200,208,216,224,232,240,248,256],"labelExpr":"datum.value % 16 == 0 && datum.value <= 160 ? ['3 Apr 06:00','3 Apr 22:00','6 Apr 14:00','7 Apr 06:00','7 Apr 22:00','','9 Apr 06:00','9 Apr 22:00','10 Apr 14:00','','13 Apr 22:00'][datum.value/16] : ''","labelAlign":"left","labelFontSize":4.5,"labelPadding":2,"labelOverlap":false,"ticks":false,"domain":true,"domainColor":"#a0a0a0","domainWidth":1,"grid":true,"title":null}},
  "y":{"field":"v","type":"quantitative","scale":{"domain":[-1.3,1.4],"nice":false,"zero":false},"axis":{"orient":"right","values":[1.1,0,-1.1],"labelExpr":"datum.value == 0 ? '0.00' : format(datum.value, '.1f')","grid":true,"title":null,"labelFontSize":4,"tickSize":2,"tickColor":"#000","domainColor":"#b4b4b4","domainWidth":2,"labelPadding":1,"labelOverlap":false}},
  "text":{"field":"name"}}},
{"data":{"name":"cursors"},"mark":{"type":"point","shape":"M-1,-0.17L1,-0.17L1,0.17L-1,0.17Z","filled":true,"size":1225,"color":"#ff1a1a","opacity":1},
 "encoding":{
  "x":{"field":"i","type":"quantitative","scale":{"domain":[-7.2,258.9],"nice":false,"zero":false},"axis":{"orient":"bottom","values":[0,8,16,24,32,40,48,56,64,72,80,88,96,104,112,120,128,136,144,152,160,168,176,184,192,200,208,216,224,232,240,248,256],"labelExpr":"datum.value % 16 == 0 && datum.value <= 160 ? ['3 Apr 06:00','3 Apr 22:00','6 Apr 14:00','7 Apr 06:00','7 Apr 22:00','','9 Apr 06:00','9 Apr 22:00','10 Apr 14:00','','13 Apr 22:00'][datum.value/16] : ''","labelAlign":"left","labelFontSize":4.5,"labelPadding":2,"labelOverlap":false,"ticks":false,"domain":true,"domainColor":"#a0a0a0","domainWidth":1,"grid":true,"title":null}},
  "y":{"datum":-1.57,"type":"quantitative","scale":{"domain":[-1.3,1.4],"nice":false,"zero":false},"axis":{"orient":"right","values":[1.1,0,-1.1],"labelExpr":"datum.value == 0 ? '0.00' : format(datum.value, '.1f')","grid":true,"title":null,"labelFontSize":4,"tickSize":2,"tickColor":"#000","domainColor":"#b4b4b4","domainWidth":2,"labelPadding":1,"labelOverlap":false}}}},
{"data":{"name":"cursors"},"mark":{"type":"text","color":"white","fontSize":4.5,"font":"Liberation Sans","align":"center","baseline":"middle"},
 "encoding":{
  "x":{"field":"i","type":"quantitative","scale":{"domain":[-7.2,258.9],"nice":false,"zero":false},"axis":{"orient":"bottom","values":[0,8,16,24,32,40,48,56,64,72,80,88,96,104,112,120,128,136,144,152,160,168,176,184,192,200,208,216,224,232,240,248,256],"labelExpr":"datum.value % 16 == 0 && datum.value <= 160 ? ['3 Apr 06:00','3 Apr 22:00','6 Apr 14:00','7 Apr 06:00','7 Apr 22:00','','9 Apr 06:00','9 Apr 22:00','10 Apr 14:00','','13 Apr 22:00'][datum.value/16] : ''","labelAlign":"left","labelFontSize":4.5,"labelPadding":2,"labelOverlap":false,"ticks":false,"domain":true,"domainColor":"#a0a0a0","domainWidth":1,"grid":true,"title":null}},
  "y":{"datum":-1.57,"type":"quantitative","scale":{"domain":[-1.3,1.4],"nice":false,"zero":false},"axis":{"orient":"right","values":[1.1,0,-1.1],"labelExpr":"datum.value == 0 ? '0.00' : format(datum.value, '.1f')","grid":true,"title":null,"labelFontSize":4,"tickSize":2,"tickColor":"#000","domainColor":"#b4b4b4","domainWidth":2,"labelPadding":1,"labelOverlap":false}},
  "text":{"field":"label"}}}
]
}
]
}
